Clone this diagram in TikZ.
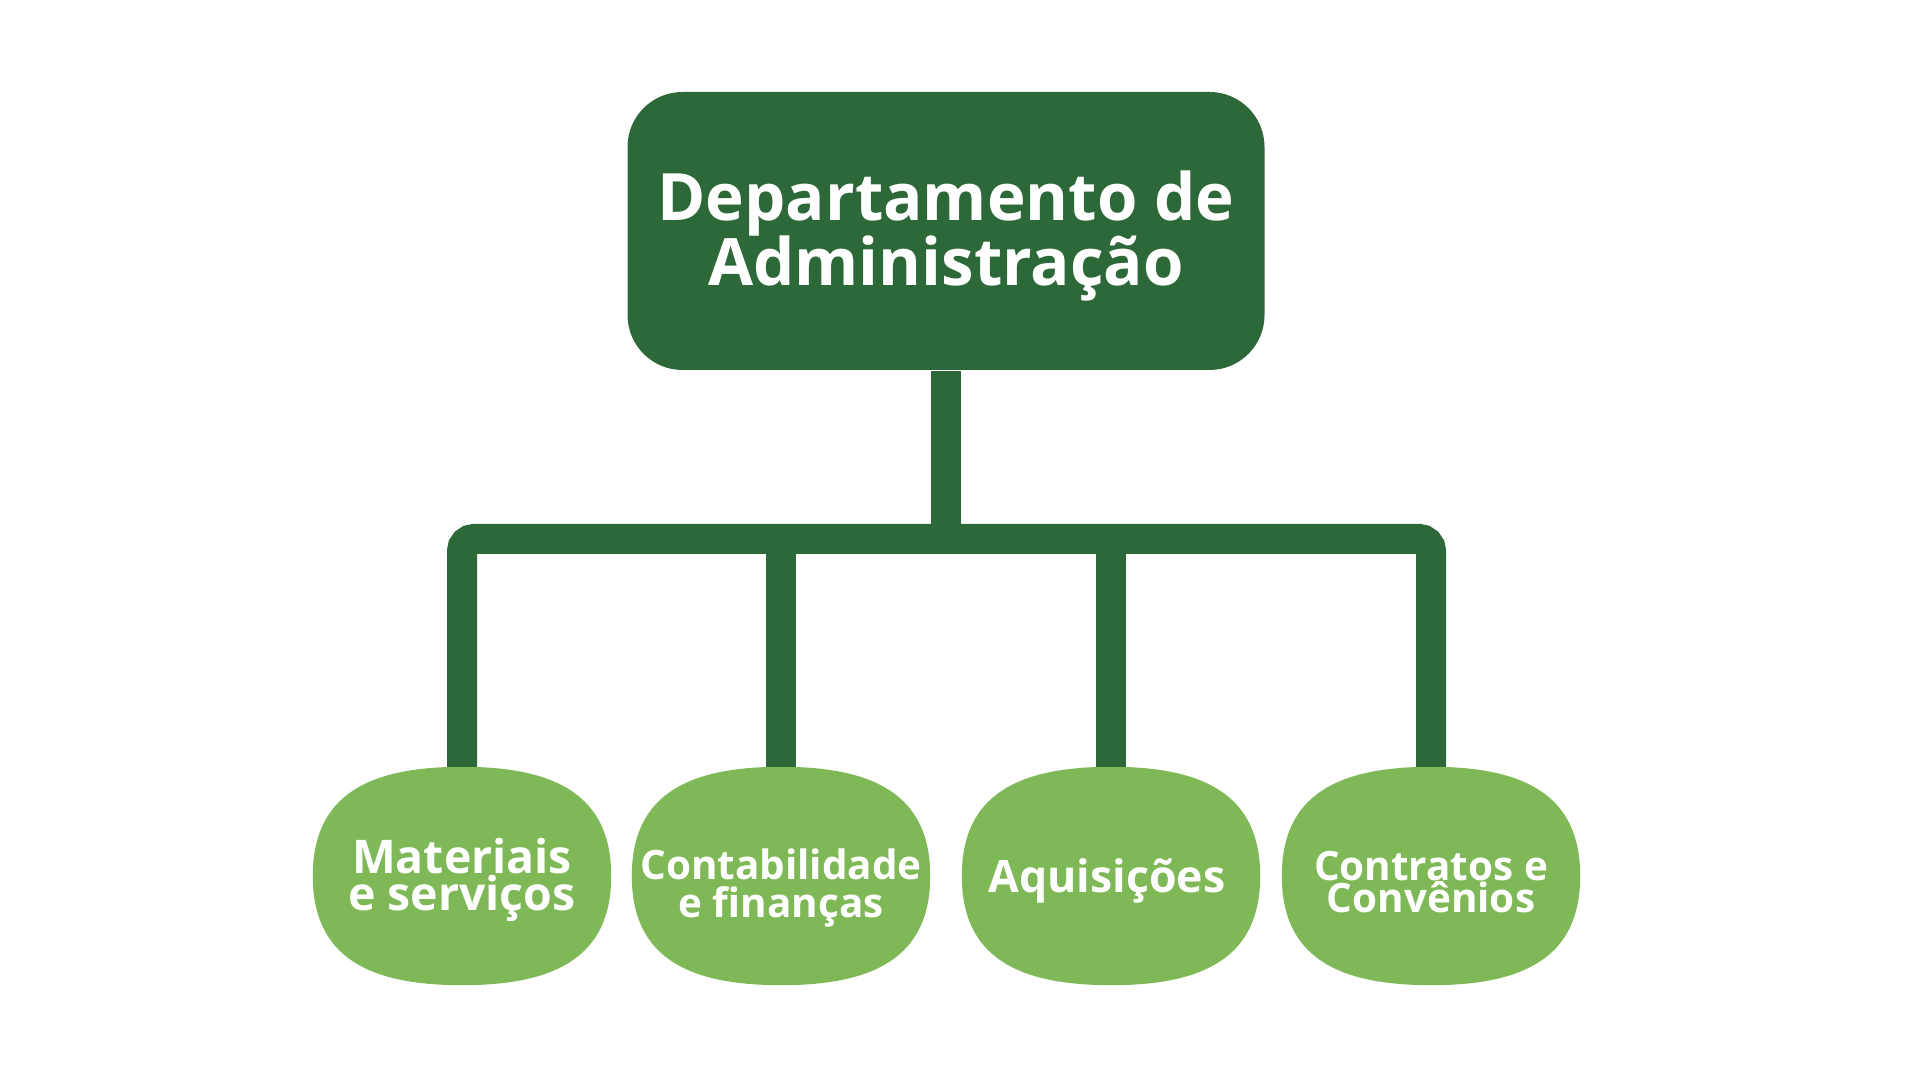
\documentclass[tikz,border=0pt]{standalone}
\usepackage{fontspec}
\setmainfont{Open Sans}
\usetikzlibrary{positioning,backgrounds}

\definecolor{verdeescuro}{RGB}{45,104,57}
\definecolor{verdeclaro}{RGB}{127,185,87}

% bolha verde atras de cada setor
\newcommand{\bolha}[1]{%
  \fill[verdeclaro] (#1.north) .. controls +(0.95,0) and +(0,0.8) .. (#1.east)
    .. controls +(0,-0.8) and +(0.95,0) .. (#1.south)
    .. controls +(-0.95,0) and +(0,-0.8) .. (#1.west)
    .. controls +(0,0.8) and +(-0.95,0) .. cycle;}

\begin{document}
\lineskiplimit=-20pt\relax
\begin{tikzpicture}[x=1cm, y=1cm,
    every label/.style={text=white, align=center},
    depto/.style={fill=verdeescuro, rounded corners=0.55cm, minimum width=6.37cm, minimum height=2.78cm, inner sep=0pt},
    setor/.style={minimum width=2.97cm, minimum height=2.17cm, inner sep=0pt},
    titulo/.style={font={\bfseries\fontsize{18.6}{18.5}\selectfont}},
    rotulo/.style={font={\bfseries\fontsize{#1}{10.6}\selectfont}},
    tronco/.style={draw=verdeescuro, line width=0.3cm}]
  \useasboundingbox (0,0) rectangle (19.2,10.8);

  \node[depto, label={[titulo, yshift=-0.05cm]center:Departamento de\\Administração}] (adm) at (9.46,8.49) {};

  \node[setor, label={[rotulo=13.2, yshift=-0.04cm]center:Materiais\\e serviços}] (mat) at (4.62,2.04) {};
  \node[setor, label={[rotulo=11.5, yshift=-0.12cm]center:Contabilidade\\e finanças}] (cont) at (7.81,2.04) {};
  \node[setor, label={[rotulo=12.7, yshift=-0.05cm, xshift=-0.04cm]center:Aquisições}] (aqui) at (11.11,2.04) {};
  \node[setor, label={[font={\bfseries\fontsize{11.5}{9.1}\selectfont}, yshift=-0.06cm]center:Contratos e\\Convênios}] (conv) at (14.31,2.04) {};

  \coordinate (barra) at (9.46,5.41);

  \begin{scope}[on background layer]
    \fill[white] (0,0) rectangle (19.2,10.8);
    \bolha{mat} \bolha{cont} \bolha{aqui} \bolha{conv}
  \end{scope}

  \draw[tronco] (adm.south) -- (barra);
  \draw[tronco, rounded corners=0.12cm] (mat.north) -- (mat.north |- barra) -- (conv.north |- barra) -- (conv.north);
  \draw[tronco] (cont.north |- barra) -- (cont.north);
  \draw[tronco] (aqui.north |- barra) -- (aqui.north);
\end{tikzpicture}
\end{document}
